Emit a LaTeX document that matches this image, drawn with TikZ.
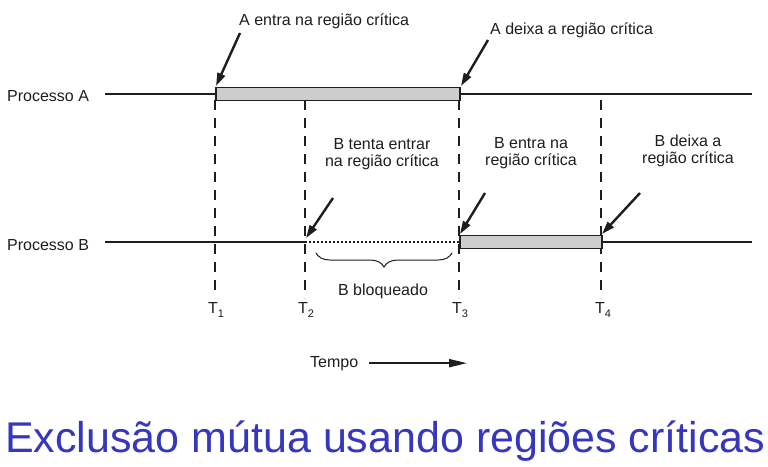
\documentclass[tikz,border=0pt]{standalone}
\usepackage{fontspec}
\setmainfont{Liberation Sans}
\usetikzlibrary{arrows.meta,decorations.pathreplacing}
\definecolor{titleblue}{RGB}{55,55,190}
\definecolor{boxgray}{RGB}{205,205,205}
\definecolor{ink}{RGB}{30,30,30}
\newcommand{\tsub}[1]{\raisebox{-4pt}{\fontsize{11}{11}\selectfont #1}}
\tikzset{
  lbl/.style={inner sep=0pt,font=\fontsize{16}{17}\selectfont,text=ink},
  timeline/.style={draw=ink,line width=2pt},
  crit/.style={draw=ink,line width=1.5pt,fill=boxgray},
  vdash/.style={draw=ink,line width=1.6pt,dash pattern=on 10pt off 8pt},
  pointer/.style={draw=ink,line width=2.4pt,-{Triangle[length=13pt,width=8pt]}},
}
\begin{document}
\begin{tikzpicture}[x=1pt,y=-1pt]
\useasboundingbox (0,0) rectangle (768,466);
\fill[white] (0,0) rectangle (768,466);
% process labels
\node[lbl,anchor=base west] (pa) at (7,101) {Processo A};
\node[lbl,anchor=base west] (pb) at (7,250) {Processo B};
% coordinates
\coordinate (a0) at (105,94);
\coordinate (a1) at (215,94);
\coordinate (a2) at (459,94);
\coordinate (a3) at (752,94);
\coordinate (b0) at (105,242);
\coordinate (b1) at (305,242);
\coordinate (b2) at (459,242);
\coordinate (b3) at (601,242);
\coordinate (b4) at (752,242);
% dashed verticals
\coordinate (v1t) at (215,100); \coordinate (v1b) at (215,298);
\coordinate (v2t) at (305,100); \coordinate (v2b) at (305,298);
\coordinate (v3t) at (459,100); \coordinate (v3b) at (459,298);
\coordinate (v4t) at (601,100); \coordinate (v4b) at (601,298);
\draw[vdash] (v1t) -- (v1b);
\draw[vdash] (v2t) -- (v2b);
\draw[vdash] (v3t) -- (v3b);
\draw[vdash] (v4t) -- (v4b);
% timelines
\draw[timeline] (a0) -- (a1);
\draw[timeline] (a2) -- (a3);
\draw[timeline] (b0) -- (b1);
\draw[draw=ink,line width=2pt,dash pattern=on 2pt off 2pt] (b1) -- (b2);
\draw[timeline] (b3) -- (b4);
% critical region boxes
\node[crit,minimum width=244pt,minimum height=13pt,inner sep=0pt,anchor=west] (ca) at (a1) {};
\node[crit,minimum width=142pt,minimum height=13pt,inner sep=0pt,anchor=west] (cb) at (b2) {};
% labels
\node[lbl,anchor=base west] (l1) at (239,25) {A entra na região crítica};
\node[lbl,anchor=base west] (l2) at (490,34) {A deixa a região crítica};
\node[lbl,anchor=base,align=center] (l3) at (382,166) {B tenta entrar\\na região crítica};
\node[lbl,anchor=base,align=center] (l4) at (531,165) {B entra na\\região crítica};
\node[lbl,anchor=base,align=center] (l5) at (688,163) {B deixa a\\região crítica};
% arrow tails
\coordinate (s1) at (240,33);
\coordinate (e1) at (216,86);
\coordinate (s2) at (488,40);
\coordinate (e2) at (461,86);
\coordinate (s3) at (333,198);
\coordinate (e3) at (306,238);
\coordinate (s4) at (485,193);
\coordinate (e4) at (460,234);
\coordinate (s5) at (640,193);
\coordinate (e5) at (602,234);
\draw[pointer] (s1) -- (e1);
\draw[pointer] (s2) -- (e2);
\draw[pointer] (s3) -- (e3);
\draw[pointer] (s4) -- (e4);
\draw[pointer] (s5) -- (e5);
% brace
\coordinate (br1) at (452,253);
\coordinate (br2) at (316,253);
\draw[draw=ink,line width=1pt,decorate,decoration={brace,amplitude=14pt}] (br1) -- (br2);
\node[lbl,anchor=base] (blk) at (383,295) {B bloqueado};
% time labels
\node[lbl,anchor=base west] (t1) at (208,313) {T\tsub{1}};
\node[lbl,anchor=base west] (t2) at (298,313) {T\tsub{2}};
\node[lbl,anchor=base west] (t3) at (452,313) {T\tsub{3}};
\node[lbl,anchor=base west] (t4) at (595,313) {T\tsub{4}};
% tempo
\node[lbl,anchor=base west] (tempo) at (310,367) {Tempo};
\coordinate (tend) at (467,362);
\draw[draw=ink,line width=2pt,-{Triangle[length=18pt,width=8pt]}] (tempo.east) ++(11,0) coordinate (tstart) -- (tstart -| tend);
% title
\node[anchor=base west,inner sep=0pt,text=titleblue,font=\fontsize{43}{48}\selectfont] (title) at (5,452) {Exclusão mútua usando regiões críticas};
\end{tikzpicture}
\end{document}
